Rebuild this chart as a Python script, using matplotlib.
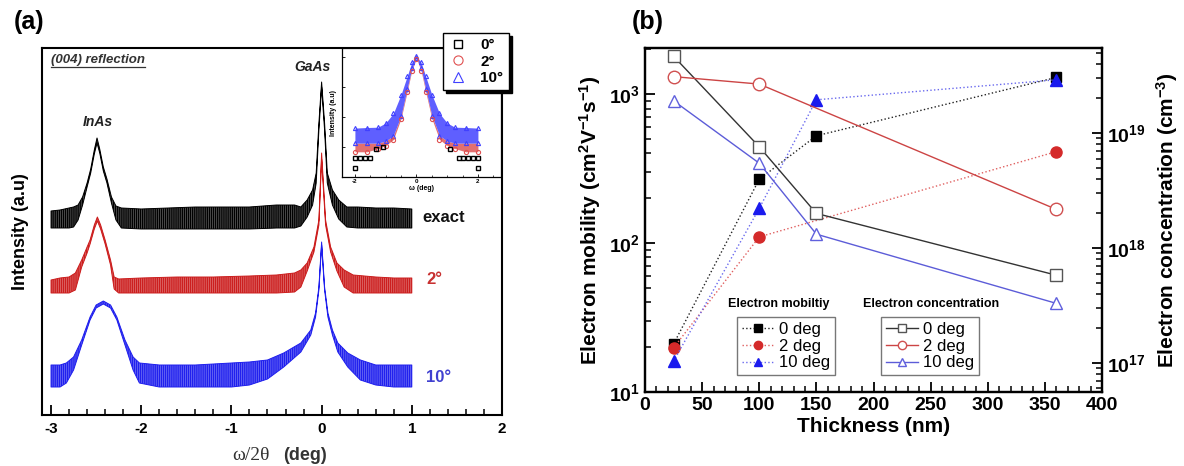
import numpy as np
import matplotlib
matplotlib.use('Agg')
import matplotlib.pyplot as plt
from matplotlib.lines import Line2D
from matplotlib.ticker import MultipleLocator, LogLocator, NullFormatter, FuncFormatter

plt.rcParams['font.family'] = ['Liberation Sans', 'DejaVu Sans']
plt.rcParams['font.weight'] = 'bold'
plt.rcParams['axes.labelweight'] = 'bold'
plt.rcParams['mathtext.fontset'] = 'custom'
plt.rcParams['mathtext.rm'] = 'Liberation Sans:bold'
plt.rcParams['mathtext.bf'] = 'Liberation Sans:bold'
plt.rcParams['mathtext.default'] = 'bf'
plt.rcParams['hatch.linewidth'] = 1.0

# ---- (a) XRD scans: noise band read as lower / upper envelope ----
x_exact = [-3.0, -2.9, -2.8, -2.75, -2.7, -2.65, -2.6, -2.56, -2.52, -2.49, -2.46, -2.42, -2.38,
           -2.33, -2.28, -2.22, -2.0, -1.7, -1.4, -1.1, -0.8, -0.5, -0.3, -0.23, -0.16, -0.10,
           -0.06, -0.03, 0.0, 0.033, 0.063, 0.12, 0.19, 0.28, 0.4, 0.6, 0.8, 1.0]
hi_exact = [204, 205, 207, 208, 210, 218, 232, 246, 265, 277, 266, 248, 236, 218, 209, 207, 206,
            207, 208, 208, 208, 210, 210, 208, 215, 225, 242, 292, 333, 292, 242, 225, 215, 208,
            208, 207, 207, 206]
lo_exact = [187, 187, 187, 188, 195, 210, 228, 242, 261, 272, 262, 244, 232, 212, 195, 187, 186,
            186, 186, 186, 186, 187, 187, 189, 198, 210, 232, 285, 328, 285, 232, 210, 196, 188,
            187, 187, 187, 187]

x_2 = [-3.0, -2.9, -2.8, -2.73, -2.66, -2.6, -2.567, -2.52, -2.486, -2.45, -2.4, -2.34, -2.30,
       -2.25, -2.0, -1.6, -1.2, -0.8, -0.5, -0.3, -0.23, -0.16, -0.085, -0.03, 0.0, 0.044, 0.10,
       0.17, 0.25, 0.35, 0.6, 0.8, 1.0]
hi_2 = [135, 137, 138, 142, 155, 168, 175, 190, 198, 190, 175, 155, 138, 136, 137, 138, 138, 139,
        140, 142, 145, 152, 168, 195, 262, 195, 168, 152, 145, 140, 138, 137, 137]
lo_2 = [122, 122, 122, 125, 148, 162, 171, 186, 194, 186, 171, 150, 126, 122, 122, 122, 122, 122,
        122, 123, 128, 144, 163, 190, 256, 190, 163, 144, 128, 122, 122, 122, 122]

x_10 = [-3.0, -2.9, -2.83, -2.75, -2.66, -2.567, -2.5, -2.42, -2.34, -2.27, -2.18, -2.09, -2.02,
        -1.8, -1.4, -1.0, -0.8, -0.6, -0.42, -0.23, -0.12, -0.067, -0.03, 0.0, 0.033, 0.07, 0.12,
        0.18, 0.29, 0.43, 0.6, 0.8, 1.0]
hi_10 = [50, 50, 52, 58, 75, 98, 110, 114, 110, 98, 75, 58, 52, 50, 50, 52, 53, 55, 62, 72, 85,
         102, 128, 173, 128, 102, 85, 72, 62, 55, 50, 50, 50]
lo_10 = [28, 28, 32, 45, 70, 95, 107, 111, 107, 95, 70, 45, 32, 28, 28, 28, 30, 36, 48, 63, 80,
         98, 125, 170, 125, 98, 80, 63, 48, 35, 30, 28, 28]

# inset rocking curves (log10 intensity)
ins_x = [-2.0, -1.6, -1.25, -1.0, -0.75, -0.5, -0.3, -0.15, 0.0, 0.15, 0.3, 0.5, 0.75, 1.0,
         1.25, 1.6, 2.0]
ins_blue_hi = [1.63, 1.65, 1.66, 1.8, 2.12, 2.75, 3.36, 3.82, 4.03, 3.82, 3.36, 2.75, 2.12, 1.8,
               1.66, 1.65, 1.63]
ins_blue_lo = [1.13, 1.13, 1.13, 1.2, 1.38, 2.05, 2.95, 3.62, 3.98, 3.62, 2.95, 2.05, 1.38, 1.2,
               1.13, 1.13, 1.13]
ins_red_lo = [0.84, 0.84, 0.95, 1.05, 1.25, 1.95, 2.85, 3.55, 3.95, 3.55, 2.85, 1.95, 1.25, 1.05,
              0.95, 0.84, 0.84]
ins_sq_x = [-2.0, -1.84, -1.68, -1.51, -2.0, -1.3, -1.1, 1.37, 1.52, 1.68, 1.84, 2.0, 2.0, 1.1]
ins_sq_y = [0.63, 0.63, 0.63, 0.63, 0.3, 0.95, 1.0, 0.63, 0.63, 0.63, 0.63, 0.63, 0.3, 0.95]

# ---- (b) mobility / concentration ----
thick = [25, 100, 150, 360]
thick_2 = [25, 100, 360]
mob_0 = [21, 268, 525, 1294]
mob_2 = [19.8, 110, 411]
mob_10 = [16.1, 171, 916, 1248]
conc_0 = [4.66e19, 7.6e18, 2.0e18, 5.8e17]
conc_2 = [3.1e19, 2.67e19, 2.17e18]
conc_10 = [1.91e19, 5.47e18, 1.32e18, 3.3e17]
deg_labels = ['0 deg', '2 deg', '10 deg']

W, H = 1184, 466
fig = plt.figure(figsize=(W / 100, H / 100), dpi=100)

# ================= panel (a) =================
ax = fig.add_axes([42 / W, 51 / H, 460 / W, 367 / H])
for x, lo, hi, c in [(x_exact, lo_exact, hi_exact, '#000000'),
                     (x_2, lo_2, hi_2, '#cc1e1e'),
                     (x_10, lo_10, hi_10, '#2020ee')]:
    ax.fill_between(x, lo, hi, facecolor=matplotlib.colors.to_rgba(c, 0.6),
                    edgecolor=c, hatch='||||||||', lw=0.7)
ax.set_xlim(-3.1, 2.0)
ax.set_ylim(0, 367)
ax.set_yticks([])
ax.xaxis.set_major_locator(MultipleLocator(1))
ax.xaxis.set_minor_locator(MultipleLocator(0.2))
ax.xaxis.set_major_formatter(FuncFormatter(lambda v, p: f'{v:g}'))
ax.tick_params(axis='x', which='major', direction='in', length=7, width=1.3, labelsize=11, pad=5)
ax.tick_params(axis='x', which='minor', direction='in', length=4, width=1.1)
for s in ax.spines.values():
    s.set_linewidth(1.5)
ax.set_ylabel('Intensity (a.u)', fontsize=13, labelpad=9)
ax.text(0.413, -0.109, 'ω/2θ', transform=ax.transAxes, fontsize=14, family='Liberation Serif',
        fontweight='normal', ha='left', va='center', color='#333333')
ax.text(0.524, -0.109, '(deg)', transform=ax.transAxes, fontsize=13, ha='left', va='center',
        color='#333333')

ax.text(-2.48, 293, 'InAs', style='italic', fontsize=10, ha='center', va='center', color='#222222')
ax.text(-0.1, 348, 'GaAs', style='italic', fontsize=10, ha='center', va='center', color='#222222')
ax.text(1.12, 198, 'exact', fontsize=12, color='#111111', ha='left', va='center')
ax.text(1.16, 135, '2°', fontsize=12, color='#c83030', ha='left', va='center')
ax.text(1.16, 38, '10°', fontsize=12, color='#4040d0', ha='left', va='center')
refl = ax.text(-3.0, 355, '(004) reflection', style='italic', fontsize=9.5, ha='left',
               va='center', color='#333333')
fig.text(14 / W, 1 - 22 / H, '(a)', fontsize=18, ha='left', va='center')

# inset
ins = fig.add_axes([342 / W, (H - 177) / H, 159 / W, 129 / H])
ins.set_yscale('log')
ins.fill_between(ins_x, 10 ** np.array(ins_red_lo), 10 ** np.array(ins_blue_lo),
                 color='#e06060', alpha=0.9, lw=0)
ins.fill_between(ins_x, 10 ** np.array(ins_blue_lo), 10 ** np.array(ins_blue_hi),
                 color='#4d4dff', alpha=0.9, lw=0)
h_tri, = ins.plot(ins_x, 10 ** np.array(ins_blue_hi), ls='none', marker='^', ms=3,
                  mfc='none', mec='#4040ff', mew=0.8, label='10°')
ins.plot(ins_x, 10 ** np.array(ins_blue_lo), ls='none', marker='^', ms=3,
         mfc='none', mec='#4040ff', mew=0.8)
h_cir, = ins.plot(ins_x, 10 ** np.array(ins_red_lo), ls='none', marker='o', ms=3,
                  mfc='none', mec='#e05050', mew=0.8, label='2°')
h_sq, = ins.plot(ins_sq_x, 10 ** np.array(ins_sq_y), ls='none', marker='s', ms=2.5,
                 mfc='none', mec='black', mew=1.0, label='0°')
ins.set_xlim(-2.42, 2.75)
ins.set_ylim(1, 10 ** 4.3)
ins.set_yticks([10, 100, 1000, 10000])
ins.yaxis.set_major_formatter(NullFormatter())
ins.yaxis.set_minor_locator(matplotlib.ticker.NullLocator())
ins.set_xticks([-2, 0, 2])
ins.xaxis.set_minor_locator(MultipleLocator(0.5))
ins.tick_params(which='both', direction='in', labelsize=4.5, pad=1.5)
ins.tick_params(which='major', length=2.5, width=0.6)
ins.tick_params(which='minor', length=1.5, width=0.5)
ins.set_xticklabels(['-2', '0', '2'])
ins.set_xlabel('ω (deg)', fontsize=5, labelpad=1)
ins.set_ylabel('Intensity (a.u)', fontsize=5, labelpad=2)
for s in ins.spines.values():
    s.set_linewidth(0.9)

leg_a = fig.legend(handles=[h_sq, h_cir, h_tri], labels=['0°', '2°', '10°'],
                   loc='upper left', bbox_to_anchor=(443 / W, 1 - 33 / H), borderaxespad=0,
                   fontsize=11, frameon=True, fancybox=False, edgecolor='black',
                   handlelength=1.2, handletextpad=0.9, labelspacing=0.15, borderpad=0.35,
                   markerscale=2.2, shadow={'ox': 2, 'oy': -2, 'color': 'black', 'alpha': 1})
leg_a.get_frame().set_linewidth(1.0)

# ================= panel (b) =================
axb = fig.add_axes([645 / W, 74 / H, 457 / W, 344 / H])
axc = axb.twinx()
axb.set_yscale('log')
axc.set_yscale('log')

hm0, = axb.plot(thick, mob_0, ls=':', lw=1, color='#222222', marker='s', ms=7,
                mfc='black', mec='black')
hm2, = axb.plot(thick_2, mob_2, ls=':', lw=1, color='#e06060', marker='o', ms=8,
                mfc='#d42a2a', mec='#d42a2a')
hm10, = axb.plot(thick, mob_10, ls=':', lw=1, color='#6a6aee', marker='^', ms=8,
                 mfc='#1a1aee', mec='#1a1aee')
hc0, = axc.plot(thick, conc_0, ls='-', lw=1, color='#333333', marker='s', ms=8,
                mfc='white', mec='#555555', mew=1)
hc2, = axc.plot(thick_2, conc_2, ls='-', lw=1, color='#cc4444', marker='o', ms=9,
                mfc='white', mec='#d05050', mew=1)
hc10, = axc.plot(thick, conc_10, ls='-', lw=1, color='#5c5cd8', marker='^', ms=9,
                 mfc='white', mec='#6060dd', mew=1)

axb.set_xlim(0, 400)
axb.set_ylim(10, 2040)
axc.set_ylim(5.59e16, 5.5e19)
axb.xaxis.set_major_locator(MultipleLocator(50))
axb.xaxis.set_minor_locator(MultipleLocator(10))
for a in (axb, axc):
    a.yaxis.set_major_locator(LogLocator(base=10, numticks=10))
    a.yaxis.set_minor_locator(LogLocator(base=10, subs=np.arange(2, 10), numticks=10))
    a.yaxis.set_minor_formatter(NullFormatter())
    a.tick_params(which='major', direction='in', length=7, width=1.3, labelsize=14)
    a.tick_params(which='minor', direction='in', length=4, width=1.1)
axb.tick_params(top=False, which='both')
for s in axb.spines.values():
    s.set_linewidth(1.6)
for s in axc.spines.values():
    s.set_linewidth(1.6)

axb.set_xlabel('Thickness (nm)', fontsize=15, labelpad=2)
axb.set_ylabel('Electron mobility (cm$^{2}$V$^{-1}$s$^{-1}$)', fontsize=15, labelpad=4)
axc.set_ylabel('Electron concentration (cm$^{-3}$)', fontsize=15, labelpad=6)

leg_kw = dict(loc='upper left', bbox_transform=fig.transFigure, borderaxespad=0,
              frameon=True, fancybox=False, edgecolor='#555555',
              handlelength=1.9, handletextpad=0.3, labelspacing=0.1, borderpad=0.3,
              prop={'size': 12, 'weight': 'normal'})
leg1 = axc.legend(handles=[hm0, hm2, hm10], labels=deg_labels,
                  bbox_to_anchor=(737 / W, 1 - 317 / H), **leg_kw)
axc.add_artist(leg1)
leg2 = axc.legend(handles=[hc0, hc2, hc10], labels=deg_labels,
                  bbox_to_anchor=(881 / W, 1 - 317 / H), **leg_kw)
for lg in (leg1, leg2):
    lg.get_frame().set_linewidth(1.0)
    for line in lg.get_lines():
        line.set_markersize(6)

fig.text(779 / W, 1 - 304 / H, 'Electron mobiltiy', fontsize=9, ha='center', va='center')
fig.text(931 / W, 1 - 304 / H, 'Electron concentration', fontsize=9, ha='center', va='center')
fig.text(632 / W, 1 - 22 / H, '(b)', fontsize=18, ha='left', va='center')

# underline for "(004) reflection"
fig.canvas.draw()
bb = refl.get_window_extent()
fig.add_artist(Line2D([bb.x0 / W, bb.x1 / W], [(bb.y0 - 1) / H, (bb.y0 - 1) / H],
                      transform=fig.transFigure, color='#333333', lw=0.9))

fig.savefig('out.png', dpi=100)
